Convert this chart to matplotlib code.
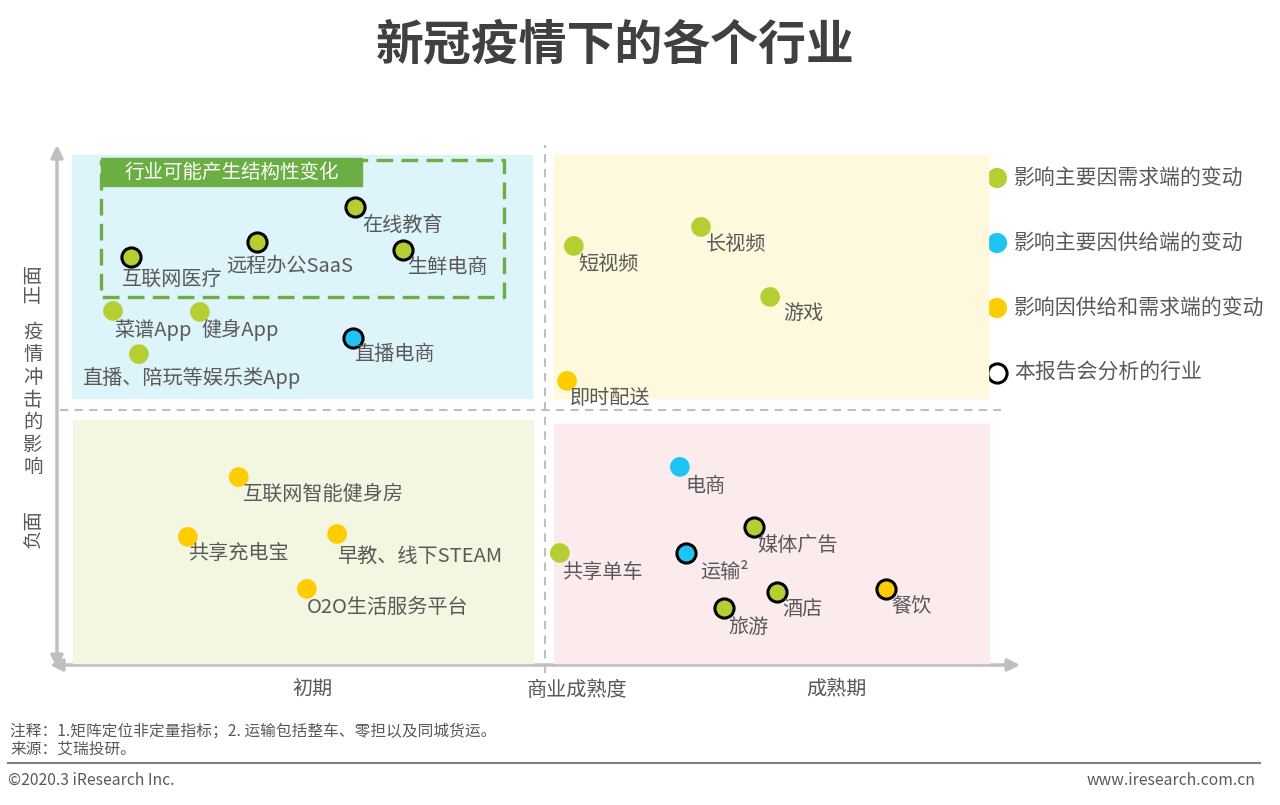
import matplotlib.pyplot as plt
from matplotlib.patches import Rectangle

plt.rcParams['font.family'] = ['Noto Sans CJK SC', 'DejaVu Sans']

# Industries: x = commercial maturity (-10 early .. 10 mature), y = impact (-10 negative .. 10 positive)
names = ['互联网医疗', '远程办公SaaS', '在线教育', '生鲜电商', '菜谱App', '健身App',
         '直播、陪玩等娱乐类App', '直播电商', '短视频', '长视频', '游戏', '即时配送',
         '互联网智能健身房', '共享充电宝', '早教、线下STEAM', 'O2O生活服务平台',
         '电商', '媒体广告', '共享单车', '运输²', '酒店', '旅游', '餐饮']
maturity = [-8.63, -6.0, -3.96, -2.96, -9.0, -7.19, -8.46, -4.0, 0.60, 3.25, 4.69, 0.46,
            -6.38, -7.44, -4.33, -4.96, 2.81, 4.35, 0.31, 2.94, 4.83, 3.73, 7.10]
impact = [5.88, 6.46, 7.81, 6.15, 3.81, 3.77, 2.15, 2.77, 6.31, 7.04, 4.35, 1.12,
          -2.58, -4.88, -4.77, -6.88, -2.19, -4.5, -5.5, -5.5, -7.0, -7.62, -6.88]
# driver: 'demand', 'supply', 'both'
driver = ['demand', 'demand', 'demand', 'demand', 'demand', 'demand', 'demand', 'supply',
          'demand', 'demand', 'demand', 'both', 'both', 'both', 'both', 'both',
          'supply', 'demand', 'demand', 'supply', 'demand', 'demand', 'both']
analyzed = [True, True, True, True, False, False, False, True, False, False, False, False,
            False, False, False, False, False, True, False, True, True, True, True]

legend_labels = ['影响主要因需求端的变动', '影响主要因供给端的变动', '影响因供给和需求端的变动', '本报告会分析的行业']

# label offsets in pixels (dx right, dy down) relative to the dot
label_offsets = [(-9, 23), (-31, 24), (7, 18), (5, 17), (1, 19), (1, 18), (-57, 24), (1, 16),
                 (4, 19), (5, 18), (13, 17), (3, 18), (4, 17), (0, 17), (0, 22), (0, 19),
                 (6, 20), (4, 18), (2, 19), (14, 19), (5, 17), (4, 19), (5, 17)]

colors = {'demand': '#B5CF32', 'supply': '#1FC5F2', 'both': '#FFCC00'}
txt_gray = '#595959'
axis_gray = '#BFBFBF'
box_green = '#6AAE44'

fig = plt.figure(figsize=(12.8, 8.05), dpi=100)

# decoration layer in pixel coordinates
deco = fig.add_axes([0, 0, 1, 1])
deco.set_xlim(0, 1280)
deco.set_ylim(805, 0)
deco.axis('off')

# data layer: x pixels 65..1025, y pixels 150..670
ax = fig.add_axes([65 / 1280, 1 - 670 / 805, 960 / 1280, 520 / 805])
ax.set_xlim(-10, 10)
ax.set_ylim(-10, 10)
ax.axis('off')
ax.patch.set_alpha(0)

# quadrant backgrounds
ax.add_patch(Rectangle((-9.85, 0.46), 9.58, 9.35, color='#DDF4FA', zorder=0))
ax.add_patch(Rectangle((0.19, 0.46), 9.04, 9.35, color='#FEF8DC', zorder=0))
ax.add_patch(Rectangle((-9.83, -9.73), 9.58, 9.35, color='#F3F7E1', zorder=0))
ax.add_patch(Rectangle((0.19, -9.73), 9.06, 9.19, color='#FCEBEC', zorder=0))

# dashed middle lines
ax.plot([0, 0], [-10.1, 10.2], color=axis_gray, lw=1.5, ls=(0, (4, 3)), clip_on=False, zorder=1)
ax.plot([-10.1, 9.5], [0, 0], color=axis_gray, lw=1.5, ls=(0, (4, 3)), clip_on=False, zorder=1)

# dashed green box + tag
ax.plot([-9.25, -0.85, -0.85, -9.25, -9.25], [9.6, 9.6, 4.35, 4.35, 9.6],
        color=box_green, lw=2.4, ls=(0, (5, 2.5)), zorder=2)
ax.add_patch(Rectangle((-9.25, 8.6), 5.44, 1.1, color=box_green, zorder=3))
ax.text(-6.53, 9.15, '行业可能产生结构性变化', color='white', fontsize=14,
        ha='center', va='center', zorder=4)

# points
for i in range(len(names)):
    if analyzed[i]:
        ax.scatter(maturity[i], impact[i], s=190, color=colors[driver[i]],
                   edgecolors='black', linewidths=2.2, zorder=5)
    else:
        ax.scatter(maturity[i], impact[i], s=200, color=colors[driver[i]],
                   edgecolors='none', zorder=5)
    dx, dy = label_offsets[i]
    ax.annotate(names[i], (maturity[i], impact[i]), xytext=(dx, -dy),
                textcoords='offset pixels', ha='left', va='center',
                fontsize=14.5, color=txt_gray, zorder=6)

# axis arrows
arrow = dict(arrowstyle='<|-|>', color=axis_gray, lw=2.5, mutation_scale=18, shrinkA=0, shrinkB=0)
deco.annotate('', xy=(57, 145), xytext=(57, 668), arrowprops=arrow)
deco.annotate('', xy=(50, 665), xytext=(1020, 665), arrowprops=arrow)

# axis labels
deco.text(312, 690, '初期', fontsize=14.5, color=txt_gray, ha='center', va='center')
deco.text(577, 690, '商业成熟度', fontsize=14.5, color=txt_gray, ha='center', va='center')
deco.text(836, 690, '成熟期', fontsize=14.5, color=txt_gray, ha='center', va='center')
deco.text(33, 283, '正面', fontsize=14, color=txt_gray, ha='center', va='center', rotation=90)
deco.text(33, 400, '\n'.join('疫情冲击的影响'), fontsize=14, color=txt_gray,
          ha='center', va='center', linespacing=1.1)
deco.text(33, 528, '负面', fontsize=14, color=txt_gray, ha='center', va='center', rotation=90)

# legend
leg_y = [178, 243, 308, 373]
leg_colors = [colors['demand'], colors['supply'], colors['both'], 'white']
for k in range(4):
    if k == 3:
        deco.scatter(997, leg_y[k], s=190, color='white', edgecolors='black', linewidths=2.2)
    else:
        deco.scatter(997, leg_y[k], s=210, color=leg_colors[k], edgecolors='none')
    deco.text(1014, leg_y[k], legend_labels[k], fontsize=15, color=txt_gray,
              ha='left', va='center')

# title
deco.text(615, 45, '新冠疫情下的各个行业', fontsize=34.5, fontweight='bold',
          color='#404040', ha='center', va='center')

# footer
deco.text(10, 731, '注释：1.矩阵定位非定量指标；2. 运输包括整车、零担以及同城货运。',
          fontsize=11.3, color='#595959', ha='left', va='center')
deco.text(10, 749, '来源：艾瑞投研。', fontsize=11.3, color='#595959', ha='left', va='center')
deco.plot([8, 1260], [763, 763], color='#7F7F7F', lw=1.5)
deco.text(8, 780, '©2020.3 iResearch Inc.', fontsize=11.3, color='#595959', ha='left', va='center')
deco.text(1255, 780, 'www.iresearch.com.cn', fontsize=11.3, color='#595959', ha='right', va='center')

fig.savefig('out.png', dpi=100)
